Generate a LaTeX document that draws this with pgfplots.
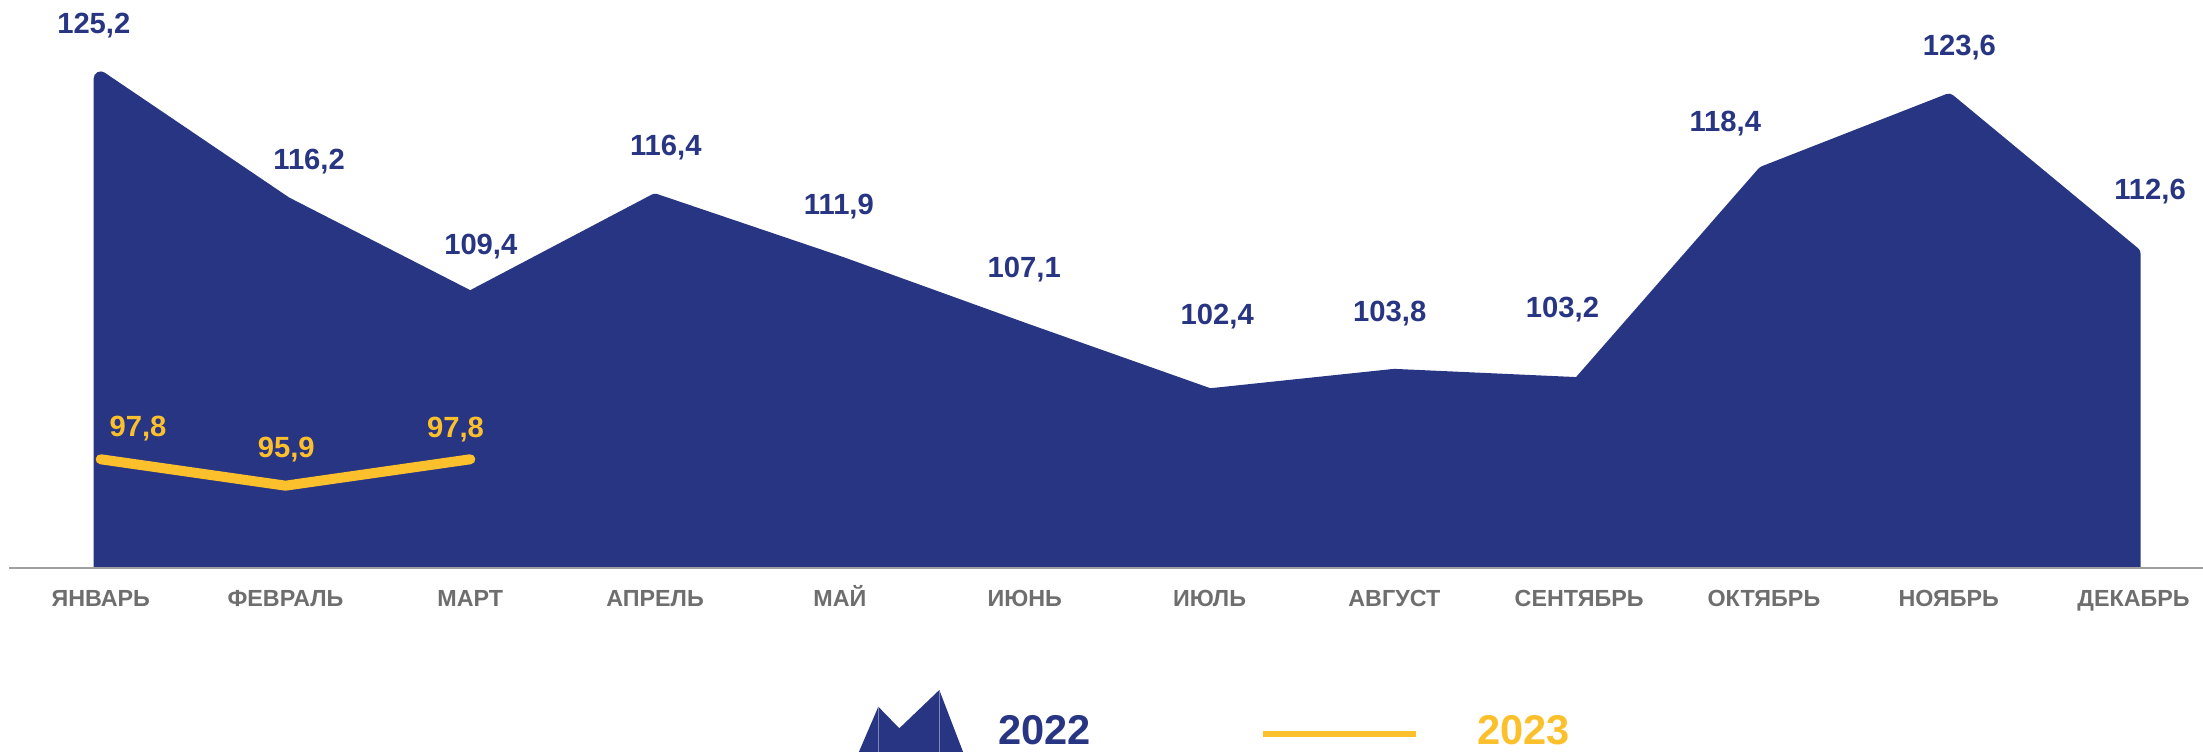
\documentclass[border=0pt]{standalone}
\usepackage{fontspec}
\setmainfont{Liberation Sans}
\usepackage{pgfplots}
\pgfplotsset{compat=1.18}
\usepackage{pgfplotstable}
\definecolor{navy}{RGB}{40,53,131}
\definecolor{gold}{RGB}{253,192,45}
\definecolor{lbl}{RGB}{110,110,110}
\definecolor{axgray}{RGB}{160,160,160}
\definecolor{iconln}{RGB}{125,135,185}

\pgfplotstableread{
x y lab dx dy
0 125.2 125,2 -3.45 26.45
1 116.2 116,2 11.8 21
2 109.4 109,4 5.25 25.65
3 116.4 116,4 5.35 26.35
4 111.9 111,9 -0.5 28.4
5 107.1 107,1 -0.25 30
6 102.4 102,4 3.85 39.25
7 103.8 103,8 -2.3 31.3
8 103.2 103,2 -8.3 37.1
9 118.4 118,4 -19.3 24.65
10 123.6 123,6 5.3 26.75
11 112.6 112,6 8.25 30.8
}\dataA

\pgfplotstableread{
x y lab dx dy
0 97.8 97,8 18.65 15.25
1 95.9 95,9 0.35 17.85
2 97.8 97,8 -7.4 14.8
}\dataB

\begin{document}
\begin{tikzpicture}
\path[use as bounding box] (0,0) rectangle (1101.5pt,375.5pt);
\begin{axis}[
  at={(4.65pt,91.65pt)}, anchor=south west,
  x=92.4pt, y=6.95pt,
  xmin=-0.4946, xmax=11.376, ymin=90, ymax=130.8,
  axis x line*=bottom, axis y line=none,
  x axis line style={axgray, line width=1pt},
  axis on top,
  xtick={0,...,11},
  xticklabels={ЯНВАРЬ,ФЕВРАЛЬ,МАРТ,АПРЕЛЬ,МАЙ,ИЮНЬ,ИЮЛЬ,АВГУСТ,СЕНТЯБРЬ,ОКТЯБРЬ,НОЯБРЬ,ДЕКАБРЬ},
  ytick=\empty,
  major tick length=0pt,
  xticklabel style={anchor=base, yshift=-19.15pt, inner sep=0pt,
    font=\fontsize{11.65}{14}\selectfont\bfseries, text=lbl},
]
\addplot[fill=navy, draw=navy, line width=7pt, line join=round]
  table[x=x,y=y]{\dataA} \closedcycle;

\addplot[draw=none, mark=none, forget plot,
  point meta=explicit symbolic,
  nodes near coords={\pgfplotspointmeta},
  visualization depends on={\thisrow{dx}\as\dx},
  visualization depends on={\thisrow{dy}\as\dy},
  every node near coord/.append style={anchor=center, inner sep=0pt,
    xshift=\dx pt, yshift=\dy pt,
    font=\fontsize{14.6}{17}\selectfont\bfseries, text=navy}]
  table[x=x,y=y,meta=lab]{\dataA};

\addplot[gold, line width=5pt, line cap=round, line join=round, mark=none]
  table[x=x,y=y]{\dataB};

\addplot[draw=none, mark=none, forget plot,
  point meta=explicit symbolic,
  nodes near coords={\pgfplotspointmeta},
  visualization depends on={\thisrow{dx}\as\dx},
  visualization depends on={\thisrow{dy}\as\dy},
  every node near coord/.append style={anchor=center, inner sep=0pt,
    xshift=\dx pt, yshift=\dy pt,
    font=\fontsize{14.6}{17}\selectfont\bfseries, text=gold}]
  table[x=x,y=y,meta=lab]{\dataB};
\end{axis}

% legend
\fill[navy] (428.35pt,-3pt) -- (439.15pt,22.15pt) -- (449.65pt,11.35pt)
  -- (469.65pt,30.5pt) -- (482.5pt,-3pt) -- cycle;
\draw[iconln, line width=0.4pt] (439.15pt,22.15pt) -- (439.15pt,-3pt);
\draw[iconln, line width=0.4pt] (469.65pt,30.5pt) -- (469.65pt,-3pt);
\node[anchor=base west, inner sep=0pt, text=navy,
  font=\fontsize{20.8}{24}\selectfont\bfseries] at (498.85pt,3.2pt) {2022};
\draw[gold, line width=3.35pt] (631.35pt,8.5pt) -- (708pt,8.5pt);
\node[anchor=base west, inner sep=0pt, text=gold,
  font=\fontsize{20.8}{24}\selectfont\bfseries] at (738.35pt,3.2pt) {2023};
\end{tikzpicture}
\end{document}
